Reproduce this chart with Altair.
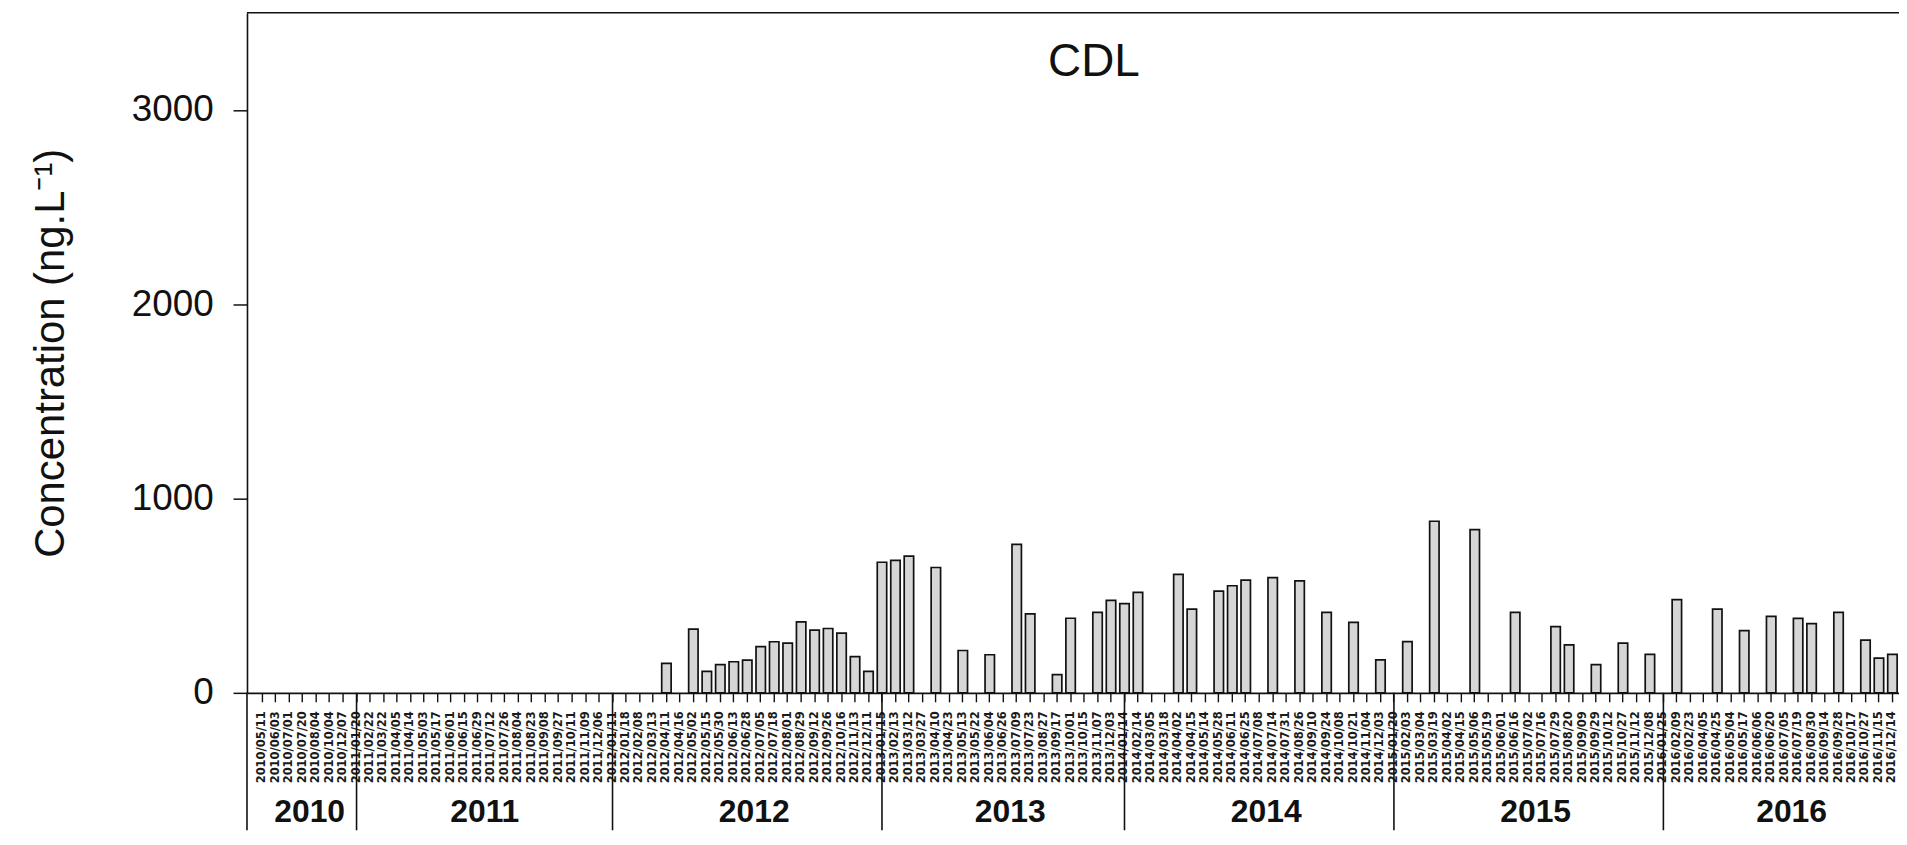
import altair as alt
import pandas as pd

# ---------------- data ----------------
years = ["2010", "2011", "2012", "2013", "2014", "2015", "2016"]

dates_2010 = ["2010/05/11", "2010/06/03", "2010/07/01", "2010/07/20", "2010/08/04",
              "2010/10/04", "2010/12/07"]
dates_2011 = ["2011/01/20", "2011/02/22", "2011/03/22", "2011/04/05", "2011/04/14",
              "2011/05/03", "2011/05/17", "2011/06/01", "2011/06/15", "2011/06/29",
              "2011/07/12", "2011/07/26", "2011/08/04", "2011/08/23", "2011/09/08",
              "2011/09/27", "2011/10/11", "2011/11/09", "2011/12/06"]
dates_2012 = ["2012/01/11", "2012/01/18", "2012/02/08", "2012/03/13", "2012/04/11",
              "2012/04/16", "2012/05/02", "2012/05/15", "2012/05/30", "2012/06/13",
              "2012/06/28", "2012/07/05", "2012/07/18", "2012/08/01", "2012/08/29",
              "2012/09/12", "2012/09/26", "2012/10/16", "2012/11/13", "2012/12/11"]
dates_2013 = ["2013/01/15", "2013/02/13", "2013/03/12", "2013/03/27", "2013/04/10",
              "2013/04/23", "2013/05/13", "2013/05/22", "2013/06/04", "2013/06/26",
              "2013/07/09", "2013/07/23", "2013/08/27", "2013/09/17", "2013/10/01",
              "2013/10/15", "2013/11/07", "2013/12/03"]
dates_2014 = ["2014/01/14", "2014/02/14", "2014/03/05", "2014/03/18", "2014/04/02",
              "2014/04/15", "2014/05/14", "2014/05/28", "2014/06/11", "2014/06/25",
              "2014/07/08", "2014/07/14", "2014/07/31", "2014/08/26", "2014/09/10",
              "2014/09/24", "2014/10/08", "2014/10/21", "2014/11/04", "2014/12/03"]
dates_2015 = ["2015/01/20", "2015/02/03", "2015/03/04", "2015/03/19", "2015/04/02",
              "2015/04/15", "2015/05/06", "2015/05/19", "2015/06/01", "2015/06/16",
              "2015/07/02", "2015/07/16", "2015/07/29", "2015/08/20", "2015/09/09",
              "2015/09/29", "2015/10/12", "2015/10/27", "2015/11/12", "2015/12/08"]
dates_2016 = ["2016/01/25", "2016/02/09", "2016/02/23", "2016/04/05", "2016/04/25",
              "2016/05/04", "2016/05/17", "2016/06/06", "2016/06/20", "2016/07/05",
              "2016/07/19", "2016/08/30", "2016/09/14", "2016/09/28", "2016/10/17",
              "2016/10/27", "2016/11/15", "2016/12/14"]

# concentrations in ng/L (0 = no bar)
values_2010 = [0, 0, 0, 0, 0, 0, 0]
values_2011 = [0] * 19
values_2012 = [0, 0, 0, 0, 152, 0, 328, 110, 145, 160, 168, 238, 263, 256, 365,
               323, 331, 307, 186, 110]
values_2013 = [672, 682, 704, 0, 645, 0, 218, 0, 196, 0, 764, 406, 0, 94, 384, 0,
               414, 476]
values_2014 = [459, 517, 0, 0, 610, 431, 0, 523, 551, 580, 0, 593, 0, 576, 0, 414,
               0, 363, 0, 170]
values_2015 = [0, 264, 0, 883, 0, 0, 840, 0, 0, 414, 0, 0, 341, 247, 0, 145, 0, 256,
               0, 198]
values_2016 = [0, 480, 0, 0, 431, 0, 320, 0, 394, 0, 383, 356, 0, 414, 0, 271, 179,
               198]

dates_by_year = [dates_2010, dates_2011, dates_2012, dates_2013, dates_2014,
                 dates_2015, dates_2016]
values_by_year = [values_2010, values_2011, values_2012, values_2013, values_2014,
                  values_2015, values_2016]

rows = []
for yr, ds, vs in zip(years, dates_by_year, values_by_year):
    for d, v in zip(ds, vs):
        rows.append({"date": d, "year": yr, "value": v})
df = pd.DataFrame(rows)
all_dates = list(df["date"])

# year separators: first sampling date of each year after the first
div_df = pd.DataFrame({"date": [ds[0] for ds in dates_by_year[1:]]})
# year labels: anchored at the middle sampling date of each year
lab_df = pd.DataFrame({"date": [ds[len(ds) // 2] for ds in dates_by_year],
                       "year": years})
one = pd.DataFrame({"k": [0]})

# ---------------- layout ----------------
W = 1659
H = 683
BELOW = 138
FONT = "Liberation Sans"
INK = "#111111"

xscale = alt.Scale(domain=all_dates, paddingInner=0.3, paddingOuter=0.46, align=0.85)
yscale = alt.Scale(domain=[0, 3500], nice=False)

xaxis = alt.Axis(labelAngle=-90, labelFont="DejaVu Sans", labelFontSize=11.5,
                 labelFontWeight="bold", labelColor="#1a1a1a", labelOverlap=False,
                 labelPadding=9, tickSize=9, tickWidth=1.4, tickColor=INK,
                 domainColor=INK, domainWidth=1.6, title=None)


def xenc():
    return alt.X("date:N", scale=xscale, axis=xaxis, title=None)


bars = alt.Chart(df).transform_filter("datum.value > 0").mark_bar(
    fill="#d6d6d6", stroke=INK, strokeWidth=1.7
).encode(
    x=xenc(),
    y=alt.Y("value:Q", scale=yscale,
            axis=alt.Axis(values=[0, 1000, 2000, 3000], format="d", grid=False,
                          tickSize=14, tickWidth=1.5, tickColor=INK, domainColor=INK,
                          domainWidth=1.6, labelFont=FONT, labelFontSize=37,
                          labelColor=INK, labelPadding=20,
                          title="Concentration (ng.L⁻¹)", titleFont=FONT,
                          titleFontSize=42, titleFontWeight="normal",
                          titleColor=INK, titleX=-197, titleBaseline="middle")),
)

dividers = alt.Chart(div_df).mark_rule(color=INK, strokeWidth=1.6).encode(
    x=xenc(),
    y=alt.value(H), y2=alt.value(H + BELOW),
)

left_ext = alt.Chart(one).mark_rule(color=INK, strokeWidth=1.6).encode(
    x=alt.value(0), y=alt.value(H), y2=alt.value(H + BELOW),
)

top_line = alt.Chart(one).mark_rule(color=INK, strokeWidth=1.5).encode(
    x=alt.value(0), x2=alt.value(W), y=alt.value(0),
)

year_text = alt.Chart(lab_df).mark_text(
    font=FONT, fontSize=32, fontWeight="bold", color=INK, baseline="alphabetic",
    align="center", dx=7
).encode(
    x=xenc(),
    y=alt.value(H + 130),
    text="year:N",
)

chart = alt.layer(bars, dividers, left_ext, top_line, year_text).properties(
    width=W, height=H,
    title=alt.TitleParams("CDL", font=FONT, fontSize=46, fontWeight="normal",
                          color=INK, anchor="middle", frame="group", offset=-74,
                          dx=21),
    autosize=alt.AutoSizeParams(type="none"),
    padding={"left": 240, "top": 3, "right": 0, "bottom": BELOW},
).configure_view(stroke=None)

chart.save("out.html", embed_options={"renderer": "svg", "actions": False})
